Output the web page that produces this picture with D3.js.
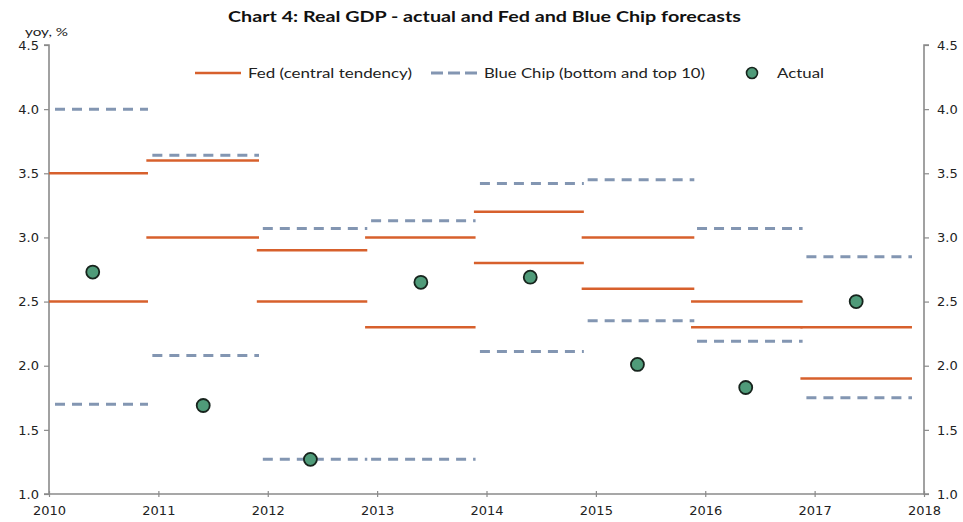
<!DOCTYPE html>
<html>
<head>
<meta charset="utf-8">
<script src="https://cdn.jsdelivr.net/npm/d3@7"></script>
<style>
  html, body { margin: 0; padding: 0; background: #ffffff; }
  svg { display: block; }
</style>
</head>
<body>
<svg id="chart" width="963" height="522"></svg>
<script>
// ---------------- data ----------------
const years       = [2010, 2011, 2012, 2013, 2014, 2015, 2016, 2017];
const segStart    = [2010.0, 2010.89, 2011.90, 2012.89, 2013.885, 2014.87, 2015.87, 2016.87];
const segEnd      = [2010.905, 2011.92, 2012.91, 2013.90, 2014.89, 2015.90, 2016.89, 2017.89];
const fedHigh     = [3.5, 3.6, 2.9, 3.0, 3.2, 3.0, 2.5, 2.3];
const fedLow      = [2.5, 3.0, 2.5, 2.3, 2.8, 2.6, 2.3, 1.9];
const blueTop     = [4.0, 3.64, 3.07, 3.13, 3.42, 3.45, 3.07, 2.85];
const blueBottom  = [1.70, 2.08, 1.27, 1.27, 2.11, 2.35, 2.19, 1.75];
const actualPos   = [2010.40, 2011.41, 2012.39, 2013.40, 2014.40, 2015.38, 2016.37, 2017.38];
const actual      = [2.73, 1.69, 1.27, 2.65, 2.69, 2.01, 1.83, 2.50];
const xTicks      = [2010, 2011, 2012, 2013, 2014, 2015, 2016, 2017, 2018];
const yTicks      = [1.0, 1.5, 2.0, 2.5, 3.0, 3.5, 4.0, 4.5];

const title = "Chart 4: Real GDP - actual and Fed and Blue Chip forecasts";
const yUnit = "yoy, %";
const legendLabels = ["Fed (central tendency)", "Blue Chip (bottom and top 10)", "Actual"];

// ---------------- styles ----------------
const FED = "#D7602C";
const BLUE = "#8396B2";
const DOT = "#4F9B79";
const AXIS = "#8A8A8A";
const TICKFONT = "'DejaVu Sans', Verdana, sans-serif";
const TXTFONT = "Lato, 'Open Sans', sans-serif";

const svg = d3.select("#chart");
const x = d3.scaleLinear().domain([2010, 2018]).range([49, 924]);
const y = d3.scaleLinear().domain([1.0, 4.5]).range([494, 45]);

// title
svg.append("text")
  .attr("x", 228).attr("y", 22)
  .attr("textLength", 513).attr("lengthAdjust", "spacingAndGlyphs")
  .style("font-family", TXTFONT).style("font-weight", "bold")
  .style("font-size", "16px").style("fill", "#111")
  .text(title);

// y unit
svg.append("text")
  .attr("x", 25).attr("y", 36)
  .attr("textLength", 43).attr("lengthAdjust", "spacingAndGlyphs")
  .style("font-family", TXTFONT).style("font-size", "11px").style("fill", "#222")
  .text(yUnit);

// axes
const fmt = d3.format(".1f");
const leftAxis = d3.axisLeft(y).tickValues(yTicks).tickFormat(fmt).tickSize(5).tickPadding(5);
const rightAxis = d3.axisRight(y).tickValues(yTicks).tickFormat(fmt).tickSize(5).tickPadding(8);
const bottomAxis = d3.axisBottom(x).tickValues(xTicks).tickFormat(d3.format("d")).tickSize(0).tickPadding(12);

function styleAxis(g) {
  g.select(".domain").attr("stroke", AXIS).attr("stroke-width", 1.6);
  g.selectAll(".tick line").attr("stroke", AXIS).attr("stroke-width", 1.2);
  g.selectAll(".tick text").style("font-family", TICKFONT).style("font-size", "13px").style("fill", "#222");
}

const gl = svg.append("g").attr("transform", `translate(${x(2010)},0)`).call(leftAxis);
styleAxis(gl);
gl.select(".domain").attr("d", `M-5,${y(4.5)}H0V${y(1.0)}H-5`);
const gr = svg.append("g").attr("transform", `translate(${x(2018)},0)`).call(rightAxis);
styleAxis(gr);
gr.select(".domain").attr("d", `M5,${y(4.5)}H0V${y(1.0)}H5`);
const gb = svg.append("g").attr("transform", `translate(0,${y(1.0)})`).call(bottomAxis);
styleAxis(gb);
gb.select(".domain").attr("d", `M${x(2010)},0H${x(2018)}`);
// small crossing tick marks on category axis
gb.selectAll(".tick").append("line")
  .attr("y1", -3).attr("y2", 3).attr("stroke", AXIS).attr("stroke-width", 1.2);

// series
const plot = svg.append("g");
function segs(values, color, dashed, width) {
  plot.selectAll(null).data(values).enter().append("line")
    .attr("x1", (d, i) => x(segStart[i]))
    .attr("x2", (d, i) => x(segEnd[i]))
    .attr("y1", d => y(d)).attr("y2", d => y(d))
    .attr("stroke", color).attr("stroke-width", width)
    .attr("stroke-dasharray", dashed ? "10,7" : null)
    .attr("stroke-dashoffset", dashed ? -6 : null);
}
segs(blueTop, BLUE, true, 3);
segs(blueBottom, BLUE, true, 3);
segs(fedHigh, FED, false, 2.5);
segs(fedLow, FED, false, 2.5);

plot.selectAll(null).data(actual).enter().append("circle")
  .attr("cx", (d, i) => x(actualPos[i]))
  .attr("cy", d => y(d))
  .attr("r", 6.5)
  .attr("fill", DOT).attr("stroke", "#17241d").attr("stroke-width", 1.8);

// legend
const leg = svg.append("g");
const ly = 73;
leg.append("line").attr("x1", 195).attr("x2", 241).attr("y1", ly).attr("y2", ly)
  .attr("stroke", FED).attr("stroke-width", 2.5);
leg.append("text").attr("x", 248).attr("y", ly + 5)
  .attr("textLength", 164).attr("lengthAdjust", "spacingAndGlyphs")
  .style("font-family", TXTFONT).style("font-size", "14px").style("fill", "#222")
  .text(legendLabels[0]);
leg.append("line").attr("x1", 431).attr("x2", 477).attr("y1", ly).attr("y2", ly)
  .attr("stroke", BLUE).attr("stroke-width", 3).attr("stroke-dasharray", "12,5");
leg.append("text").attr("x", 484).attr("y", ly + 5)
  .attr("textLength", 221).attr("lengthAdjust", "spacingAndGlyphs")
  .style("font-family", TXTFONT).style("font-size", "14px").style("fill", "#222")
  .text(legendLabels[1]);
leg.append("circle").attr("cx", 752).attr("cy", ly).attr("r", 5.5)
  .attr("fill", DOT).attr("stroke", "#17241d").attr("stroke-width", 1.6);
leg.append("text").attr("x", 777).attr("y", ly + 5)
  .attr("textLength", 47).attr("lengthAdjust", "spacingAndGlyphs")
  .style("font-family", TXTFONT).style("font-size", "14px").style("fill", "#222")
  .text(legendLabels[2]);
</script>
</body>
</html>
